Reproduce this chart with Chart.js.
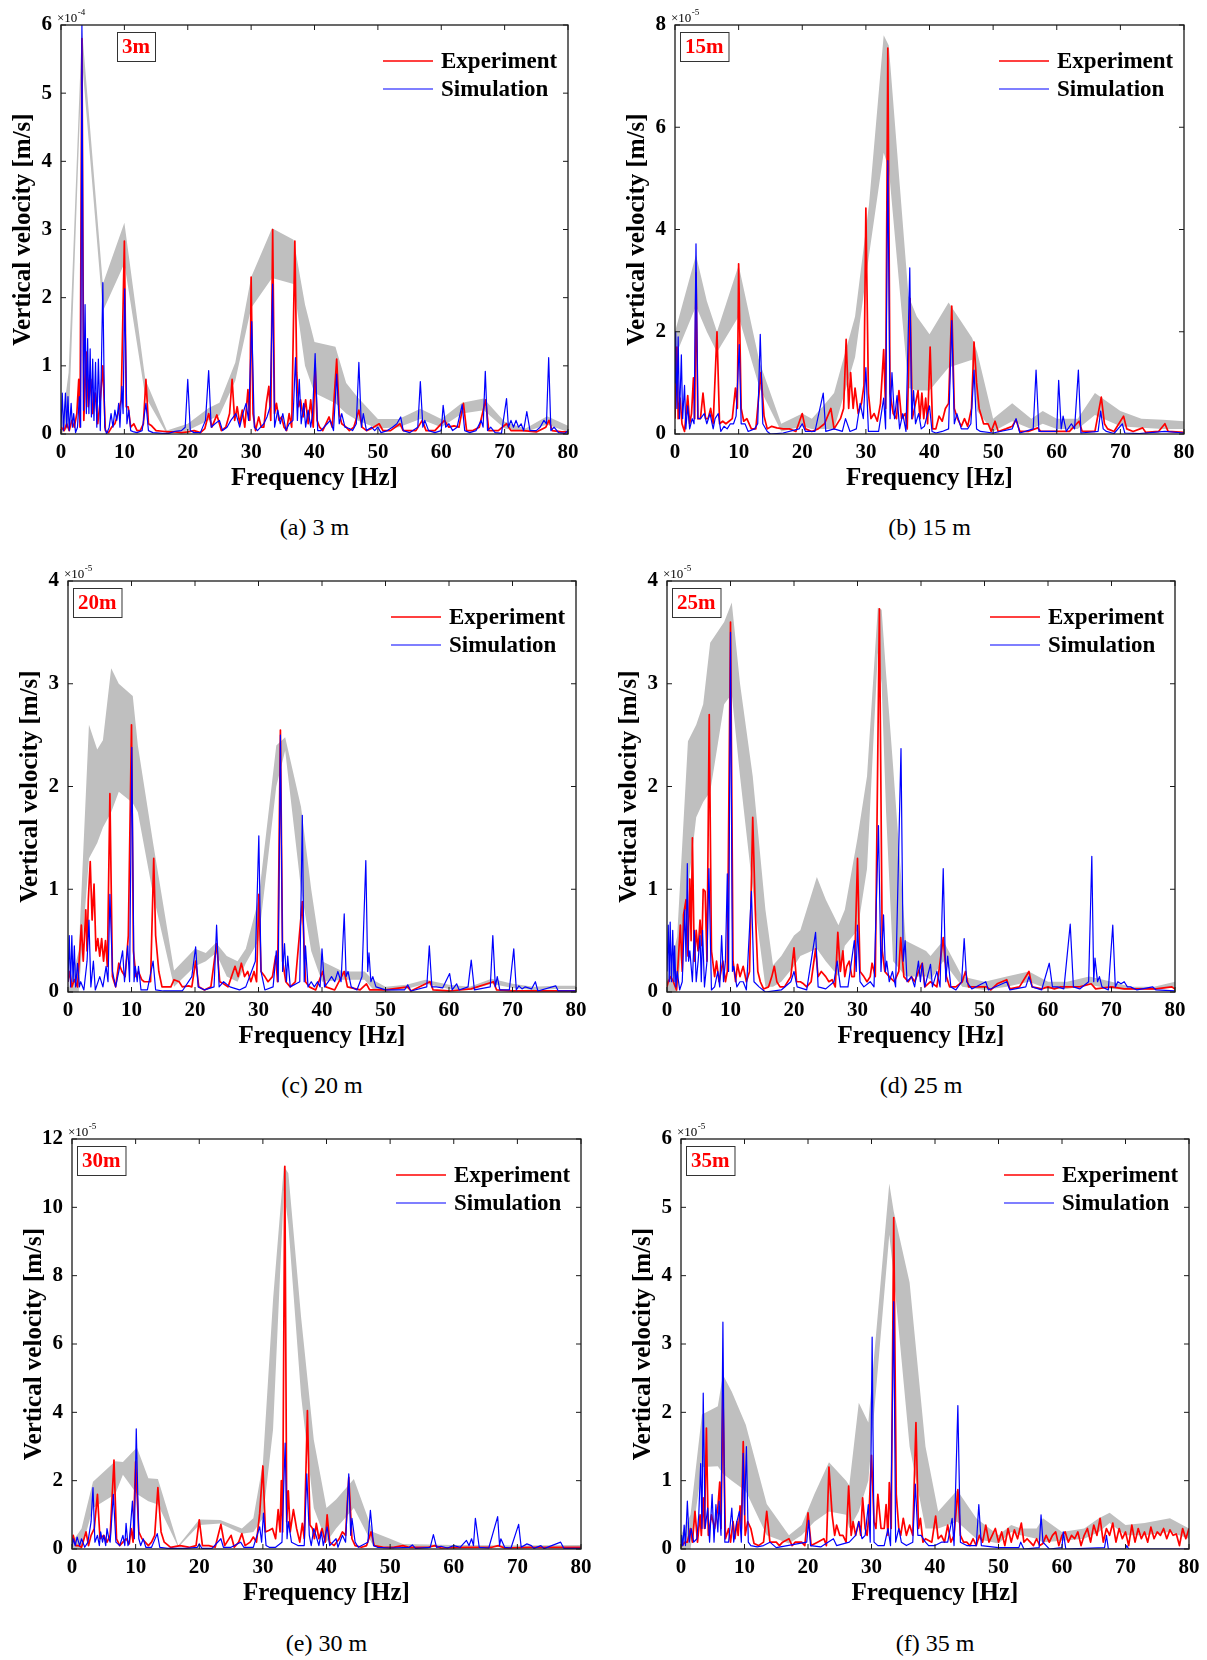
<!DOCTYPE html>
<html><head><meta charset="utf-8">
<script src="https://cdn.jsdelivr.net/npm/chart.js@4.4.1/dist/chart.umd.min.js"></script>
<style>
html,body{margin:0;padding:0;background:#fff;}
#page{position:relative;width:1207px;height:1660px;overflow:hidden;background:#fff;}
canvas{position:absolute;}
.cap{position:absolute;font-family:"Liberation Serif","Times New Roman",serif;font-size:24px;color:#000;transform:translate(-50%,-50%);white-space:nowrap;}
</style></head><body><div id="page"></div>
<script>
// ---------------- DATA ----------------
const panelTags = ['3m','15m','20m','25m','30m','35m'];
const captions = ['(a) 3 m','(b) 15 m','(c) 20 m','(d) 25 m','(e) 30 m','(f) 35 m'];
const exponents = ['-4','-5','-5','-5','-5','-5'];
const yMax = [6, 8, 4, 4, 12, 6];
const yStep = [1, 2, 1, 1, 2, 1];
const seriesNames = ['Experiment','Simulation'];

// (a) 3 m, units 1e-4 m/s
const A_bandF  = [0,1.2,3.3,6.6,10,13.3,16.7,20,23.3,25,27.5,30,33.3,36.7,38.5,40,43.3,45,46.7,50,53.3,56.7,60,63.3,66.7,70,73.3,76.7,80];
const A_bandHi = [0.05,0.9,5.95,2.2,3.1,0.8,0.05,0.15,0.38,0.46,1.05,2.3,3.02,2.85,1.9,1.35,1.28,0.75,0.55,0.22,0.22,0.37,0.22,0.46,0.52,0.18,0.08,0.26,0.12];
const A_bandLo = [0,0.1,5.5,1.8,2.5,0.55,0,0.05,0.2,0.27,0.78,1.85,2.29,2.2,1.0,0.6,0.45,0.3,0.2,0.08,0.1,0.22,0.1,0.3,0.35,0.08,0.03,0.14,0.03];
const A_exp = [[0,0.1],[0.5,0.05],[0.9,0.15],[1.3,0.05],[1.7,0.2],[2.1,0.1],[2.5,0.3],[2.8,0.8],[3.0,0.1],[3.3,5.8],[3.6,0.2],[4.0,1.2],[4.3,0.4],[4.7,0.8],[5.0,0.3],[5.4,0.6],[5.8,0.15],[6.2,0.5],[6.6,1.0],[7.0,0.05],[7.5,0.02],[8.0,0.1],[8.5,0.15],[9.0,0.3],[9.5,0.5],[10.0,2.83],[10.3,0.4],[10.6,0.4],[11.0,0.1],[11.5,0.15],[12.0,0.05],[12.5,0.05],[13.0,0.15],[13.4,0.8],[13.8,0.15],[14.3,0.12],[15,0.05],[16,0.04],[17,0.03],[18,0.03],[19,0.02],[20,0.03],[21,0.05],[22,0.02],[22.7,0.08],[23.3,0.3],[23.8,0.1],[24.6,0.28],[25.3,0.05],[26,0.1],[26.6,0.3],[27.0,0.8],[27.4,0.2],[27.8,0.4],[28.2,0.15],[28.6,0.35],[29.0,0.1],[29.5,0.65],[29.8,0.2],[30.0,2.3],[30.3,0.3],[30.7,0.05],[31.2,0.25],[31.6,0.1],[32.0,0.1],[32.4,0.45],[32.8,0.7],[33.1,0.2],[33.4,3.0],[33.7,0.3],[34.0,0.45],[34.4,0.2],[34.8,0.25],[35.2,0.1],[35.6,0.05],[36.0,0.3],[36.4,0.1],[36.9,2.83],[37.2,0.9],[37.5,0.4],[37.8,0.5],[38.2,0.25],[38.6,0.5],[39.0,0.15],[39.4,0.5],[39.8,0.1],[40.1,1.0],[40.4,0.2],[40.8,0.1],[41.3,0.05],[41.8,0.15],[42.3,0.25],[42.8,0.1],[43.5,1.1],[43.9,0.3],[44.3,0.15],[45,0.1],[45.5,0.05],[46.2,0.1],[47.0,0.35],[47.5,0.1],[48.2,0.05],[49,0.08],[50.2,0.15],[50.8,0.05],[52,0.05],[53.5,0.15],[54,0.05],[55,0.05],[56,0.05],[57,0.2],[57.6,0.05],[59,0.05],[60.5,0.2],[61.2,0.1],[62,0.12],[62.8,0.1],[63.5,0.45],[64,0.05],[65,0.05],[66,0.1],[67,0.5],[67.5,0.05],[69,0.05],[70.3,0.15],[71,0.05],[73,0.05],[75,0.03],[76.5,0.1],[77,0.2],[77.5,0.05],[79,0.03],[80,0.03]];
const A_sim = [[0,0.1],[0.2,0.6],[0.4,0.05],[0.7,0.6],[0.9,0.1],[1.1,0.55],[1.3,0.05],[1.6,0.45],[1.8,0.1],[2.0,0.3],[2.3,0.02],[2.6,0.1],[2.9,0.55],[3.1,0.1],[3.3,6.0],[3.55,0.35],[3.8,1.9],[4.0,0.3],[4.2,1.4],[4.4,0.3],[4.6,1.25],[4.8,0.25],[5.0,1.1],[5.2,0.2],[5.45,1.05],[5.65,0.1],[5.9,1.1],[6.2,0.05],[6.6,2.22],[6.9,0.1],[7.2,0.0],[7.6,0.1],[7.9,0.3],[8.2,0.1],[8.5,0.35],[8.8,0.2],[9.1,0.45],[9.3,0.1],[9.6,0.7],[9.8,0.3],[10.05,2.13],[10.4,0.15],[10.7,0.35],[11,0.05],[11.5,0.03],[12,0.02],[12.8,0.05],[13.4,0.45],[13.8,0.05],[14.5,0.02],[16,0.01],[17,0.01],[18,0.04],[19,0.05],[19.6,0.1],[20.0,0.8],[20.4,0.05],[21,0.02],[22,0.02],[22.8,0.2],[23.3,0.93],[23.7,0.1],[24.3,0.15],[25,0.2],[25.5,0.05],[26.2,0.1],[26.8,0.2],[27.6,0.3],[28.2,0.1],[28.7,0.3],[29.2,0.45],[29.6,0.2],[30.1,1.65],[30.5,0.1],[31,0.05],[31.5,0.1],[32,0.15],[32.5,0.25],[33.0,0.4],[33.4,2.2],[33.7,0.1],[34.2,0.35],[34.6,0.15],[35.0,0.3],[35.5,0.05],[36.0,0.15],[36.6,0.2],[37.0,1.12],[37.3,0.2],[37.6,0.8],[37.9,0.15],[38.3,0.45],[38.6,0.1],[39,0.35],[39.4,0.1],[39.7,0.3],[40.1,1.18],[40.5,0.05],[41,0.05],[41.5,0.1],[42,0.15],[42.5,0.2],[43,0.05],[43.5,0.88],[43.9,0.15],[44.3,0.3],[44.8,0.1],[45.5,0.08],[46,0.05],[46.6,0.15],[47.0,1.05],[47.4,0.1],[47.7,0.3],[48.2,0.05],[49,0.1],[49.5,0.05],[50,0.1],[50.5,0.02],[51.5,0.05],[52.3,0.1],[53,0.15],[53.6,0.25],[54,0.05],[55,0.02],[56.3,0.1],[56.7,0.77],[57.1,0.1],[57.4,0.2],[58,0.05],[59,0.02],[60,0.05],[60.3,0.42],[60.7,0.1],[61.2,0.15],[61.8,0.05],[62.5,0.1],[63.3,0.43],[63.7,0.05],[64.5,0.02],[65.5,0.05],[66.3,0.2],[66.6,0.1],[66.95,0.92],[67.3,0.05],[67.8,0.1],[68.5,0.02],[69.5,0.01],[70.3,0.52],[70.6,0.1],[71,0.2],[71.4,0.1],[71.8,0.2],[72.2,0.1],[72.6,0.15],[73,0.05],[73.5,0.33],[74,0.05],[75,0.05],[75.6,0.1],[76.2,0.2],[76.6,0.15],[76.95,1.12],[77.3,0.05],[77.8,0.1],[78.5,0.02],[79.5,0.01],[80,0.05]];

// (b) 15 m, units 1e-5 m/s
const B_bandF  = [0,3.3,5.0,6.6,10,13.3,16.7,20,21.5,23.3,25,28.3,30.5,32.8,33.6,36.7,38,40,43,46.7,47.5,50,53,56,57.8,60,63.3,66,70,73.3,76.7,80];
const B_bandHi = [2.0,3.5,2.6,2.0,3.3,1.4,0.2,0.4,0.3,0.55,0.8,2.3,4.5,7.8,7.6,2.7,2.3,1.95,2.57,1.88,1.6,0.3,0.6,0.3,0.45,0.3,0.3,0.8,0.45,0.3,0.28,0.25];
const B_bandLo = [1.5,2.5,2.0,1.6,2.3,0.9,0.05,0.15,0.1,0.1,0.1,1.5,3.5,5.5,5.2,0.9,0.85,0.85,1.3,1.45,0.45,0.05,0.25,0.1,0.2,0.1,0.1,0.37,0.15,0.12,0.1,0.1];
const B_exp = [[0,0.3],[0.3,1.7],[0.5,0.3],[0.8,0.7],[1.1,0.2],[1.5,0.05],[2.0,0.75],[2.3,0.2],[2.6,0.4],[2.9,1.1],[3.1,0.3],[3.3,3.15],[3.6,0.3],[4.0,0.3],[4.4,0.8],[4.8,0.3],[5.2,0.3],[5.6,0.5],[6.0,0.2],[6.6,2.0],[7.0,0.2],[7.5,0.25],[8.0,0.2],[8.5,0.25],[9.0,0.3],[9.5,0.9],[9.8,0.5],[10.0,3.33],[10.4,0.5],[10.8,0.25],[11.3,0.3],[12,0.1],[12.7,0.1],[13.5,1.2],[14.0,0.35],[14.5,0.1],[15.2,0.15],[16,0.12],[17,0.1],[18,0.1],[19,0.05],[20,0.4],[20.5,0.1],[21.5,0.05],[22.5,0.1],[23.5,0.2],[24.5,0.5],[25,0.1],[26,0.3],[26.5,0.5],[26.9,1.85],[27.3,0.5],[27.6,1.2],[28.0,0.5],[28.3,0.9],[28.8,0.4],[29.3,0.6],[29.7,0.95],[30.0,4.42],[30.4,0.8],[30.8,0.3],[31.3,0.4],[31.8,0.25],[32.3,0.6],[32.8,1.65],[33.1,0.5],[33.45,7.55],[33.8,0.8],[34.3,0.4],[34.8,0.3],[35.2,0.85],[35.6,0.3],[36.2,0.4],[36.5,0.1],[36.95,2.65],[37.3,0.3],[37.8,0.6],[38.2,0.85],[38.5,0.3],[38.8,0.8],[39.1,0.3],[39.4,0.7],[39.7,0.2],[40.1,1.7],[40.5,0.1],[41,0.1],[41.5,0.35],[42,0.25],[42.5,0.5],[43,0.6],[43.5,2.5],[43.9,0.5],[44.4,0.3],[45,0.15],[45.5,0.3],[46,0.15],[46.6,0.5],[47.0,1.8],[47.4,1.0],[47.8,0.5],[48.5,0.2],[49.2,0.2],[49.7,0.05],[50.3,0.25],[50.8,0.05],[52,0.1],[53,0.15],[53.6,0.28],[54.2,0.05],[55.5,0.05],[57,0.12],[57.5,0.05],[59,0.05],[60.5,0.05],[62,0.05],[63.5,0.25],[64,0.05],[66,0.05],[67,0.72],[67.5,0.2],[68,0.1],[69,0.05],[70.5,0.35],[71,0.1],[72,0.05],[73.5,0.12],[74,0.03],[76,0.05],[77,0.2],[77.5,0.05],[80,0.03]];
const B_sim = [[0,1.0],[0.1,2.0],[0.3,0.5],[0.5,1.9],[0.7,0.3],[1.0,1.55],[1.2,0.3],[1.5,0.95],[1.7,0.1],[2.0,0.55],[2.3,0.1],[2.7,0.3],[3.0,0.2],[3.3,3.72],[3.6,0.3],[4.0,0.3],[4.6,0.4],[5.0,0.2],[5.5,0.4],[6.0,0.1],[6.3,0.3],[6.8,0.4],[7.2,0.05],[7.7,0.15],[8.2,0.1],[8.7,0.2],[9.2,0.2],[9.6,0.35],[10.1,1.75],[10.4,0.2],[11,0.2],[11.5,0.05],[12.5,0.1],[13.0,0.2],[13.4,1.95],[13.8,0.2],[14.5,0.05],[15,0.0],[17,0.02],[19.5,0.1],[20,0.2],[20.5,0.05],[22,0.05],[23.3,0.8],[23.7,0.05],[25,0.1],[26.3,0.05],[26.8,0.3],[27.5,0.05],[28.5,0.1],[29.1,0.6],[29.6,0.3],[30.0,1.3],[30.4,0.05],[31,0.05],[32,0.05],[32.8,0.7],[33.1,0.1],[33.45,5.35],[33.8,0.3],[34.1,1.2],[34.5,0.3],[34.9,0.75],[35.3,0.1],[35.8,0.4],[36.3,0.05],[36.9,3.25],[37.2,0.3],[37.5,0.85],[37.8,0.2],[38.3,0.4],[38.7,0.1],[39.2,0.15],[40.0,0.55],[40.4,0.05],[41,0.02],[42,0.05],[43,0.1],[43.5,2.22],[43.9,0.2],[44.3,0.4],[45,0.1],[46,0.1],[46.5,0.2],[47.0,1.25],[47.4,0.1],[48,0.05],[50,0.02],[53,0.1],[53.6,0.3],[54.2,0.02],[56.3,0.1],[56.75,1.25],[57.2,0.05],[58,0.05],[60,0.05],[60.3,1.05],[60.7,0.1],[61,0.35],[61.5,0.05],[62.3,0.2],[62.8,0.1],[63.4,1.25],[63.8,0.02],[66.5,0.05],[66.9,0.45],[67.3,0.1],[67.8,0.05],[69,0.01],[70.3,0.2],[70.7,0.02],[73,0.01],[77,0.05],[80,0.02]];

// (c) 20 m, units 1e-5 m/s
const C_bandF  = [0,1.7,3.3,4.6,5.5,6.8,8.0,10.2,11.0,13.4,16.7,20,21.7,23.3,25,26.7,28,30,32.8,34.2,36.7,38.3,40,43.3,46.7,48,50,53.3,56.3,60,63.3,66.7,70,73.3,76.7,80];
const C_bandHi = [0,0.4,2.6,2.36,2.45,3.15,3.0,2.88,2.4,1.45,0.21,0.42,0.38,0.48,0.35,0.3,0.42,0.9,2.4,2.48,1.8,1.0,0.3,0.2,0.2,0.12,0.05,0.07,0.12,0.07,0.05,0.13,0.08,0.05,0.06,0.06];
const C_bandLo = [0,0,1.3,1.45,1.6,1.75,1.95,1.84,1.75,0.95,0.05,0.25,0.3,0.38,0.15,0.1,0.28,0.5,2.0,2.35,1.0,0.4,0.1,0.12,0.12,0.03,0,0.03,0.08,0.03,0.02,0.08,0.04,0.02,0.03,0.03];
const C_exp = [[0,0.1],[0.3,0.2],[0.6,0.05],[1.0,0.12],[1.5,0.05],[2.1,0.65],[2.4,0.3],[2.8,0.8],[3.0,0.4],[3.2,0.9],[3.5,1.27],[3.8,0.7],[4.1,1.05],[4.4,0.4],[4.7,0.52],[5.0,0.35],[5.3,0.52],[5.6,0.3],[5.9,0.5],[6.2,0.25],[6.6,1.93],[7.0,0.15],[7.5,0.05],[8.0,0.28],[8.5,0.2],[9.0,0.15],[9.5,0.55],[10.0,2.6],[10.3,0.4],[10.7,0.15],[11.1,0.2],[11.6,0.12],[12,0.1],[12.5,0.1],[13.0,0.1],[13.5,1.3],[13.8,0.55],[14.3,0.2],[14.8,0.05],[15.5,0.05],[16.2,0.05],[16.7,0.12],[17.5,0.1],[18,0.05],[19,0.06],[19.5,0.05],[20.1,0.3],[20.6,0.05],[21.5,0.02],[22.5,0.05],[23.4,0.47],[23.9,0.1],[24.5,0.08],[25.2,0.05],[26.3,0.25],[26.8,0.15],[27.3,0.28],[27.8,0.15],[28.3,0.2],[28.8,0.1],[29.3,0.2],[29.7,0.1],[30.05,0.95],[30.4,0.2],[31,0.15],[31.5,0.1],[32.2,0.15],[32.7,0.35],[33.0,0.1],[33.45,2.55],[33.8,0.3],[34.3,0.1],[35,0.05],[35.8,0.1],[36.9,0.88],[37.4,0.1],[38,0.05],[39,0.02],[40.1,0.2],[40.6,0.05],[42,0.02],[43.5,0.2],[44,0.05],[46,0.02],[47,0.08],[47.5,0.02],[50,0.02],[53.5,0.05],[54,0.01],[57,0.1],[57.5,0.02],[60,0.01],[63.5,0.03],[67,0.1],[67.5,0.02],[70,0.01],[80,0.01]];
const C_sim = [[0,0.1],[0.2,0.55],[0.4,0.05],[0.6,0.55],[0.8,0.1],[1.0,0.45],[1.2,0.05],[1.5,0.28],[1.8,0.05],[2.0,0.1],[2.5,0.02],[3.0,0.3],[3.3,0.7],[3.6,0.05],[4.0,0.3],[4.3,0.02],[5.0,0.15],[5.5,0.05],[6.0,0.25],[6.3,0.1],[6.6,0.95],[7.0,0.2],[7.5,0.05],[8.0,0.2],[8.3,0.3],[8.6,0.4],[8.9,0.1],[9.4,0.45],[9.7,0.1],[10.05,2.38],[10.4,0.1],[10.6,0.25],[10.9,0.1],[11.1,0.25],[11.5,0.02],[12.5,0.02],[13.4,0.3],[13.8,0.02],[15,0.01],[18,0.01],[19.5,0.15],[20.1,0.44],[20.5,0.05],[21.5,0.02],[23.0,0.05],[23.4,0.65],[23.8,0.05],[24.5,0.1],[25.5,0.05],[27,0.02],[28,0.05],[29.5,0.3],[30.05,1.52],[30.4,0.2],[31,0.02],[32.3,0.05],[32.8,0.4],[33.1,0.1],[33.45,2.5],[33.8,0.2],[34.1,0.47],[34.4,0.1],[34.6,0.35],[35,0.05],[36.5,0.1],[36.9,1.72],[37.2,0.1],[37.4,0.45],[37.8,0.05],[38.3,0.1],[38.8,0.05],[39.3,0.1],[39.7,0.05],[40.0,0.42],[40.4,0.05],[41.0,0.1],[41.5,0.15],[42,0.1],[42.5,0.2],[43.0,0.1],[43.5,0.76],[43.8,0.15],[44.1,0.2],[44.6,0.05],[45.5,0.02],[46.3,0.15],[46.9,1.28],[47.2,0.2],[47.4,0.38],[47.7,0.1],[48,0.15],[48.5,0.05],[50,0.02],[53,0.02],[53.5,0.07],[54,0.01],[56.5,0.05],[56.9,0.45],[57.3,0.05],[58,0.05],[59,0.04],[60.1,0.18],[60.5,0.02],[61.2,0.08],[61.6,0.02],[63,0.05],[63.5,0.31],[64,0.02],[66.5,0.05],[66.9,0.55],[67.3,0.05],[67.6,0.15],[68,0.02],[69.5,0.02],[70.2,0.42],[70.6,0.02],[71,0.06],[71.5,0.03],[72,0.05],[73,0.03],[73.6,0.1],[74,0.01],[76.8,0.06],[77.2,0.01],[80,0.01]];

// (d) 25 m, units 1e-5 m/s
const D_bandF  = [0,1.6,3.3,4.6,5.7,6.8,9.0,10.2,11.5,13.5,15.5,16.7,18,20,21,23.6,25,27,28,30,31.5,33.2,33.8,34.5,35.6,37.6,40.8,41.5,43.5,46.5,50,53.5,57,60,63,66.5,70,73,76.7,80];
const D_bandHi = [0.1,0.54,2.44,2.6,2.8,3.4,3.6,3.79,3.0,2.1,0.8,0.26,0.35,0.55,0.6,1.12,0.9,0.65,0.8,1.5,2.1,3.74,3.72,3.1,2.2,0.5,0.4,0.35,0.5,0.15,0.1,0.15,0.2,0.1,0.1,0.15,0.1,0.05,0.05,0.1];
const D_bandLo = [0,0,1.0,1.7,1.85,1.95,2.8,2.9,2.1,1.0,0.05,0.05,0.1,0.25,0.35,0.42,0.3,0.15,0.45,0.6,1.2,3.3,3.0,1.75,0.3,0.15,0.15,0.12,0.3,0.05,0.02,0.05,0.1,0.03,0.03,0.07,0.03,0.02,0.02,0.05];
const D_exp = [[0,0.05],[0.2,0.1],[0.6,0.15],[1.0,0.1],[1.5,0.02],[2.1,0.65],[2.4,0.2],[2.6,0.75],[3.0,0.9],[3.3,0.35],[3.6,1.1],[3.8,0.5],[4.0,1.5],[4.3,0.3],[4.6,0.6],[4.9,0.4],[5.2,0.7],[5.5,0.45],[5.7,1.0],[6.0,0.98],[6.3,0.3],[6.65,2.7],[7.0,0.4],[7.5,0.15],[7.8,0.3],[8.2,0.1],[8.8,0.3],[9.2,0.1],[9.5,0.2],[10.0,3.6],[10.4,0.3],[10.8,0.1],[11.1,0.27],[11.5,0.15],[12.0,0.25],[12.5,0.1],[13.0,0.2],[13.5,1.7],[13.9,0.8],[14.3,0.2],[14.7,0.1],[15.2,0.03],[16.0,0.05],[16.5,0.15],[16.9,0.25],[17.3,0.1],[17.8,0.05],[18.5,0.05],[19.5,0.15],[20.0,0.43],[20.4,0.1],[21,0.1],[21.5,0.08],[22,0.05],[22.7,0.1],[23.4,0.42],[23.8,0.15],[24.3,0.2],[25,0.15],[25.5,0.1],[26,0.12],[26.5,0.05],[26.9,0.58],[27.3,0.2],[27.7,0.4],[28,0.15],[28.3,0.25],[28.7,0.3],[29.1,0.15],[29.5,0.15],[30.0,1.3],[30.4,0.2],[31,0.15],[31.5,0.1],[32,0.15],[32.3,0.28],[32.8,0.15],[33.45,3.73],[33.9,0.4],[34.3,0.2],[35,0.15],[35.8,0.1],[36.5,0.2],[36.8,0.53],[37.3,0.15],[38,0.1],[38.5,0.15],[39,0.1],[39.6,0.2],[40.2,0.28],[40.6,0.05],[41.5,0.1],[42.5,0.05],[43.5,0.53],[44,0.15],[44.5,0.05],[45.5,0.05],[46.5,0.1],[47,0.2],[47.5,0.05],[48.5,0.05],[50.3,0.05],[51,0.02],[52,0.08],[53.5,0.12],[54,0.03],[55.5,0.05],[57,0.2],[57.5,0.05],[59,0.03],[60,0.05],[61,0.03],[62,0.05],[63.5,0.05],[65,0.05],[66.8,0.08],[67.5,0.03],[70,0.05],[72,0.03],[75,0.03],[77,0.03],[79.5,0.05],[80,0.03]];
const D_sim = [[0,0.2],[0.2,0.65],[0.35,0.1],[0.5,0.68],[0.7,0.1],[0.9,0.6],[1.1,0.1],[1.2,0.45],[1.4,0.05],[1.6,0.2],[2.0,0.02],[2.4,0.1],[2.8,0.8],[3.0,0.3],[3.2,1.25],[3.4,0.3],[3.6,0.4],[4.0,0.1],[4.3,0.6],[4.6,0.1],[4.9,0.3],[5.2,0.55],[5.4,0.1],[5.6,0.6],[5.9,0.05],[6.3,0.3],[6.6,1.2],[7.0,0.02],[7.5,0.05],[8.0,0.2],[8.3,0.05],[8.6,0.55],[8.9,0.1],[9.2,0.3],[9.5,1.15],[9.7,0.2],[10.0,3.5],[10.3,0.2],[10.5,0.25],[11.0,0.05],[11.5,0.1],[12.0,0.1],[12.5,0.02],[13.3,0.98],[13.7,0.1],[14.5,0.05],[15.5,0.0],[18,0.02],[19.5,0.1],[20.0,0.2],[20.5,0.05],[22,0.02],[23.4,0.58],[23.8,0.05],[25,0.03],[26.3,0.1],[26.8,0.3],[27.3,0.05],[28.5,0.05],[29.5,0.5],[29.8,0.2],[30.0,0.65],[30.4,0.1],[31,0.05],[32.0,0.1],[32.6,0.05],[33.3,1.62],[33.7,0.2],[34.1,0.75],[34.4,0.2],[34.6,0.3],[35,0.1],[35.5,0.2],[36,0.05],[36.85,2.37],[37.2,0.3],[37.5,0.5],[37.8,0.1],[38.5,0.15],[39,0.05],[39.6,0.3],[39.9,0.1],[40.2,0.28],[40.6,0.05],[41.5,0.27],[41.8,0.05],[42.5,0.2],[43,0.05],[43.5,1.2],[43.9,0.1],[44.2,0.35],[44.7,0.05],[45.5,0.02],[46.4,0.1],[46.8,0.52],[47.2,0.1],[48,0.03],[50.2,0.1],[50.6,0.02],[53.5,0.1],[54,0.02],[56.5,0.05],[57.0,0.15],[57.5,0.05],[59,0.02],[60.2,0.28],[60.7,0.05],[61.5,0.05],[62.5,0.03],[63.5,0.66],[64,0.05],[65,0.03],[66.4,0.1],[66.9,1.32],[67.2,0.1],[67.4,0.33],[67.8,0.1],[68.1,0.15],[68.5,0.05],[69.5,0.02],[70.2,0.65],[70.6,0.05],[71.0,0.1],[71.5,0.08],[72,0.1],[72.5,0.05],[73,0.05],[74,0.02],[76.5,0.05],[77,0.02],[80,0.01]];

// (e) 30 m, units 1e-5 m/s
const E_bandF  = [0,1.5,3.3,6.8,8.0,10.2,12.0,13.5,16.7,20,23.3,26.7,28.5,30,31.6,33.3,34,36,38,40,41.5,44.3,47.3,50,52,60,70,80];
const E_bandHi = [0.2,0.6,1.97,2.57,2.55,2.97,2.07,2.05,0.1,0.86,0.85,0.6,0.9,2.5,7.3,11.2,11.0,6.8,3.2,1.2,1.45,2.05,0.5,0.3,0.15,0.12,0.1,0.12];
const E_bandLo = [0,0,1.2,1.6,2.17,1.61,1.4,1.3,0.05,0.7,0.75,0.45,0.5,0.9,3.5,10.5,9.5,4.5,1.2,0.2,0.6,1.2,0.1,0.05,0.05,0.05,0.05,0.05];
const E_exp = [[0,0.1],[0.2,0.4],[0.6,0.1],[1.0,0.1],[1.5,0.05],[2.2,0.5],[2.6,0.1],[3.0,0.4],[3.5,0.6],[4.0,1.6],[4.4,0.3],[5.0,0.4],[5.5,0.2],[6.0,0.4],[6.6,2.6],[7.0,0.3],[7.5,0.1],[8.0,0.2],[8.5,0.3],[9.0,0.15],[9.3,0.6],[9.6,0.2],[10.0,2.55],[10.5,0.5],[11,0.3],[11.5,0.2],[12,0.1],[12.5,0.2],[13.0,0.4],[13.5,1.8],[14,0.5],[14.5,0.2],[15.5,0.05],[17,0.1],[18.5,0.05],[19.5,0.1],[20.0,0.85],[20.5,0.1],[21.5,0.1],[22.5,0.05],[23.4,0.72],[24,0.1],[25,0.4],[25.5,0.05],[26.2,0.2],[26.7,0.45],[27.2,0.1],[28,0.2],[28.5,0.35],[29,0.2],[29.5,1.05],[30.0,2.43],[30.4,0.5],[31,0.55],[31.5,0.6],[32,0.3],[32.4,1.15],[32.7,0.5],[32.9,2.0],[33.1,0.5],[33.45,11.2],[33.75,0.8],[34.0,1.7],[34.3,0.5],[34.8,1.15],[35.3,0.6],[35.8,0.2],[36.2,0.75],[36.5,0.3],[37.0,4.05],[37.4,0.7],[37.8,0.6],[38.1,0.3],[38.4,0.75],[38.8,0.3],[39.3,0.6],[39.8,0.2],[40.1,1.0],[40.5,0.2],[41.2,0.1],[42,0.3],[42.5,0.5],[43,0.4],[43.5,2.1],[44,0.3],[44.5,0.1],[45.5,0.05],[46.3,0.1],[47,0.5],[47.5,0.1],[49,0.05],[50.5,0.05],[52,0.1],[53,0.05],[56,0.05],[57,0.1],[58,0.03],[62,0.05],[66,0.05],[67,0.1],[68,0.03],[72,0.05],[76,0.05],[80,0.05]];
const E_sim = [[0,0.05],[0.2,0.3],[0.5,0.1],[0.8,0.35],[1.2,0.1],[1.5,0.3],[2.0,0.05],[2.5,0.2],[3.0,0.8],[3.3,1.8],[3.6,0.2],[4.0,0.4],[4.3,0.1],[4.5,0.5],[4.8,0.2],[5.0,0.4],[5.3,0.1],[5.5,0.6],[5.8,0.3],[6.0,0.2],[6.5,1.6],[6.9,0.2],[7.5,0.1],[8.0,0.4],[8.3,0.1],[8.5,0.75],[8.8,0.1],[9.0,0.2],[9.5,1.4],[9.8,0.3],[10.1,3.52],[10.5,0.3],[10.8,0.1],[11.2,0.3],[11.6,0.05],[12.5,0.05],[13.4,0.45],[13.8,0.05],[15,0.02],[18,0.02],[19.7,0.05],[20.0,0.15],[20.4,0.02],[22,0.02],[23.4,0.3],[23.8,0.05],[25,0.05],[26.5,0.2],[27,0.05],[28.5,0.05],[29.5,0.65],[29.8,0.2],[30.1,1.05],[30.5,0.1],[31,0.05],[32,0.05],[33.0,0.2],[33.5,3.1],[33.8,0.3],[34,0.8],[34.5,0.2],[35.5,0.1],[36.5,0.1],[36.9,2.2],[37.3,0.4],[37.6,0.1],[38.0,0.6],[38.5,0.3],[38.8,0.1],[39.2,0.5],[39.5,0.1],[40.1,0.65],[40.5,0.1],[41.5,0.3],[41.8,0.05],[42.5,0.4],[43.0,0.2],[43.5,2.2],[43.8,0.4],[44.0,0.9],[44.5,0.2],[45,0.05],[46.5,0.2],[46.9,1.13],[47.4,0.1],[48,0.05],[50,0.03],[53,0.05],[53.5,0.12],[54,0.02],[56.3,0.05],[56.8,0.42],[57.3,0.05],[58,0.08],[59,0.03],[60,0.1],[61,0.05],[62,0.25],[62.4,0.1],[62.8,0.3],[63.1,0.1],[63.4,0.9],[64,0.05],[65.5,0.03],[66.9,0.95],[67.2,0.1],[67.4,0.3],[68,0.05],[69,0.03],[70.2,0.72],[70.6,0.05],[71.5,0.15],[72.2,0.1],[72.6,0.02],[73.7,0.1],[74.2,0.01],[76.8,0.2],[77.3,0.02],[80,0.02]];

// (f) 35 m, units 1e-5 m/s
const F_bandF  = [0,1.5,3.3,5.8,6.6,8.0,10.2,13.5,17,19,21,23.3,26.0,26.5,28,29.5,32.8,33.5,36,38.5,40.5,43.5,46.5,50,52,53.5,56,57,60,63.5,65.8,67.5,70,73,77,80];
const F_bandHi = [0.2,0.5,1.97,2.09,2.55,2.3,1.82,0.66,0.2,0.35,0.8,1.27,1.0,0.93,2.14,1.85,5.35,4.94,3.9,1.5,0.55,0.86,0.45,0.2,0.35,0.3,0.3,0.45,0.25,0.3,0.45,0.53,0.35,0.38,0.45,0.3];
const F_bandLo = [0,0,1.2,1.21,1.1,1.0,0.85,0.2,0.08,0.2,0.4,0.55,0.5,0.3,0.55,1.0,4.6,4.0,1.5,0.3,0.3,0.4,0.15,0.08,0.25,0.2,0.15,0.1,0.12,0.15,0.25,0.38,0.2,0.2,0.25,0.15];
const F_exp = [[0,0.05],[0.2,0.05],[0.6,0.1],[1.0,0.1],[1.5,0.3],[1.8,0.1],[2.2,0.55],[2.6,0.1],[3.0,0.5],[3.2,0.2],[3.5,0.75],[3.7,0.3],[4.0,1.77],[4.3,0.2],[4.8,0.5],[5.3,0.3],[5.8,0.6],[6.1,0.98],[6.3,0.3],[6.6,2.28],[7.0,0.15],[7.5,0.3],[7.8,0.1],[8.2,0.4],[8.5,0.15],[8.8,0.4],[9.0,0.2],[9.3,0.63],[9.5,0.3],[9.8,1.57],[10.1,0.2],[10.5,0.4],[11,0.3],[11.5,0.08],[12.2,0.05],[13,0.1],[13.5,0.55],[14,0.1],[15,0.1],[15.5,0.05],[16,0.1],[17,0.15],[17.5,0.05],[18,0.1],[19,0.1],[19.5,0.05],[20,0.53],[20.5,0.05],[21.5,0.1],[22.5,0.15],[22.9,0.05],[23.3,1.2],[23.8,0.5],[24.2,0.2],[24.5,0.35],[25,0.2],[25.5,0.2],[26,0.1],[26.4,0.92],[26.8,0.2],[27.1,0.4],[27.5,0.2],[28.0,0.4],[28.3,0.2],[28.6,0.75],[29.0,0.3],[29.3,0.2],[29.6,0.5],[30.0,1.37],[30.4,0.4],[30.7,0.3],[31.0,0.8],[31.5,0.3],[32.0,0.3],[32.3,0.65],[32.6,0.2],[32.8,0.97],[33.1,0.3],[33.5,4.85],[33.9,0.8],[34.3,0.3],[34.6,0.2],[35,0.45],[35.5,0.2],[36,0.35],[36.5,0.2],[37.0,1.85],[37.4,0.3],[37.7,0.45],[38.1,0.1],[38.5,0.15],[39.5,0.1],[40.1,0.48],[40.5,0.15],[41,0.2],[41.5,0.1],[42,0.35],[42.5,0.1],[43.0,0.2],[43.6,0.87],[44,0.2],[44.5,0.1],[45,0.1],[45.5,0.05],[46,0.15],[46.5,0.05],[47,0.2],[47.5,0.1],[48,0.35],[48.5,0.1],[49,0.2],[49.5,0.3],[50,0.1],[50.5,0.25],[51,0.05],[51.5,0.3],[52,0.1],[52.5,0.28],[53,0.15],[53.6,0.38],[54,0.1],[54.5,0.15],[55,0.1],[55.5,0.05],[56,0.15],[56.5,0.05],[57,0.08],[57.5,0.2],[58,0.1],[58.5,0.2],[59,0.25],[59.5,0.05],[60,0.2],[60.5,0.25],[61,0.1],[61.5,0.2],[62,0.15],[62.5,0.25],[63,0.05],[63.5,0.2],[64,0.3],[64.5,0.1],[65,0.35],[65.5,0.2],[66,0.45],[66.5,0.1],[67,0.3],[67.5,0.2],[68,0.38],[68.5,0.1],[69,0.3],[69.5,0.15],[70,0.25],[70.5,0.05],[71,0.35],[71.5,0.1],[72,0.3],[72.5,0.15],[73,0.25],[73.5,0.1],[74,0.32],[74.5,0.15],[75,0.25],[75.5,0.2],[76,0.3],[76.5,0.15],[77,0.28],[77.5,0.2],[78,0.22],[78.5,0.05],[79,0.3],[79.5,0.15],[80,0.3]];
const F_sim = [[0,0.05],[0.1,0.2],[0.3,0.05],[0.5,0.35],[0.7,0.05],[1.0,0.7],[1.3,0.1],[1.6,0.3],[2.0,0.1],[2.5,0.15],[2.8,0.5],[3.1,1.25],[3.3,0.3],[3.5,2.28],[3.8,0.3],[4.2,0.6],[4.5,0.1],[4.9,0.8],[5.2,0.1],[5.5,0.65],[5.8,0.25],[6.0,0.7],[6.3,0.2],[6.6,3.32],[6.9,0.1],[7.5,0.1],[8.0,0.6],[8.3,0.1],[8.8,0.4],[9.2,0.55],[9.5,0.1],[9.8,1.4],[10.0,0.5],[10.3,1.5],[10.6,0.1],[11,0.05],[12,0.03],[13,0.05],[14,0.1],[15,0.02],[19.8,0.1],[20.1,0.42],[20.4,0.05],[22,0.03],[24,0.15],[24.5,0.05],[26.5,0.1],[27.5,0.2],[28,0.4],[28.5,0.15],[29,0.2],[29.5,0.65],[29.8,0.1],[30.1,3.1],[30.4,0.1],[31,0.05],[32,0.05],[32.6,0.3],[33.0,0.05],[33.5,3.62],[33.8,0.1],[34.3,0.3],[34.7,0.1],[35.5,0.05],[36.5,0.1],[36.9,0.95],[37.3,0.2],[37.8,0.2],[38.5,0.1],[39,0.05],[40,0.05],[41,0.1],[42,0.1],[42.7,0.45],[43.0,0.05],[43.6,2.1],[44,0.1],[45,0.05],[46.5,0.05],[46.9,0.65],[47.3,0.05],[50,0.02],[53.2,0.02],[53.5,0.1],[54,0.0],[56.4,0.02],[56.7,0.5],[57,0.1],[58,0.0],[60,0.02],[60.2,0.25],[60.6,0.0],[66.7,0.02],[67,0.2],[67.3,0.0],[70,0.0],[70.2,0.05],[70.5,0.0],[80,0.0]];

// ---------------- LAYOUT (plot-area boxes in page pixels) ----------------
const boxes = [
  {L:61, T:25, R:568, B:434, tagDx:56},
  {L:675, T:25, R:1184, B:434, tagDx:5},
  {L:68, T:581, R:576, B:992, tagDx:5},
  {L:667, T:581, R:1175, B:992, tagDx:5},
  {L:72, T:1139, R:581, B:1549, tagDx:5},
  {L:681, T:1139, R:1189, B:1549, tagDx:5}
];
const captionY = [527, 527, 1085, 1085, 1643, 1643];

const panelData = [
  {bandF:A_bandF, hi:A_bandHi, lo:A_bandLo, exp:A_exp, sim:A_sim},
  {bandF:B_bandF, hi:B_bandHi, lo:B_bandLo, exp:B_exp, sim:B_sim},
  {bandF:C_bandF, hi:C_bandHi, lo:C_bandLo, exp:C_exp, sim:C_sim},
  {bandF:D_bandF, hi:D_bandHi, lo:D_bandLo, exp:D_exp, sim:D_sim},
  {bandF:E_bandF, hi:E_bandHi, lo:E_bandLo, exp:E_exp, sim:E_sim},
  {bandF:F_bandF, hi:F_bandHi, lo:F_bandLo, exp:F_exp, sim:F_sim}
];

// ---------------- DRAWING ----------------
const FONT = '"Liberation Serif", "Times New Roman", serif';
const RED = '#ff0000', BLUE = '#0000ff', GREY = '#bfbfbf';
const PAD_L = 52, PAD_T = 25, PAD_R = 22, XAX_H = 60;

const decor = {
  id: 'decor',
  afterDraw(chart, args, o) {
    const ctx = chart.ctx;
    const {left:L, top:T, right:R, bottom:B} = chart.chartArea;
    const xs = chart.scales.x, ys = chart.scales.y;
    ctx.save();
    ctx.strokeStyle = '#1a1a1a'; ctx.lineWidth = 1.3;
    ctx.strokeRect(L, T, R - L, B - T);
    ctx.lineWidth = 1;
    ctx.beginPath();
    xs.ticks.forEach(t => { const p = xs.getPixelForValue(t.value); ctx.moveTo(p, B); ctx.lineTo(p, B - 5); ctx.moveTo(p, T); ctx.lineTo(p, T + 5); });
    ys.ticks.forEach(t => { const p = ys.getPixelForValue(t.value); ctx.moveTo(L, p); ctx.lineTo(L + 5, p); ctx.moveTo(R, p); ctx.lineTo(R - 5, p); });
    ctx.stroke();
    // exponent
    ctx.fillStyle = '#000'; ctx.textAlign = 'left'; ctx.textBaseline = 'alphabetic';
    ctx.font = '13px ' + FONT;
    ctx.fillText('×10', L - 4, T - 3);
    const w = ctx.measureText('×10').width;
    ctx.font = '9px ' + FONT;
    ctx.fillText(o.exp, L - 4 + w + 0.5, T - 10);
    // tag box
    ctx.font = 'bold 21px ' + FONT;
    const tw = ctx.measureText(o.tag).width;
    const bx = L + o.tagDx, by = T + 7, bw = tw + 10, bh = 29;
    ctx.strokeStyle = '#333'; ctx.lineWidth = 1;
    ctx.strokeRect(bx + 0.5, by + 0.5, bw, bh);
    ctx.fillStyle = RED; ctx.textBaseline = 'middle';
    ctx.fillText(o.tag, bx + 5, by + bh / 2 + 1.5);
    // legend
    const items = [[seriesNames[0], RED, 1.7, T + 36], [seriesNames[1], BLUE, 1.2, T + 64]];
    ctx.font = 'bold 23px ' + FONT;
    items.forEach(([txt, col, lw, yy]) => {
      ctx.strokeStyle = col; ctx.lineWidth = lw;
      ctx.beginPath(); ctx.moveTo(R - 185, yy); ctx.lineTo(R - 135, yy); ctx.stroke();
      ctx.fillStyle = '#000'; ctx.textBaseline = 'middle';
      ctx.fillText(txt, R - 127, yy + 1);
    });
    ctx.restore();
  }
};

const page = document.getElementById('page');
const toXY = pairs => pairs.map(p => ({x: p[0], y: p[1]}));
const zipXY = (F, V) => F.map((f, i) => ({x: f, y: V[i]}));

boxes.forEach((bx, i) => {
  const D = panelData[i];
  const W = (bx.R - bx.L) + PAD_L + PAD_R;
  const H = (bx.B - bx.T) + PAD_T + XAX_H;
  const cv = document.createElement('canvas');
  cv.width = W; cv.height = H;
  cv.style.width = W + 'px'; cv.style.height = H + 'px';
  cv.style.left = (bx.L - PAD_L) + 'px'; cv.style.top = (bx.T - PAD_T) + 'px';
  page.appendChild(cv);

  const tickFont = {family: FONT, size: 21, weight: 'bold'};
  const titleFont = {family: FONT, size: 25, weight: 'bold'};
  new Chart(cv.getContext('2d'), {
    type: 'line',
    data: {datasets: [
      {data: zipXY(D.bandF, D.hi), borderWidth: 0, pointRadius: 0, fill: '+1', backgroundColor: GREY, borderColor: GREY, order: 3},
      {data: zipXY(D.bandF, D.lo), borderWidth: 0, pointRadius: 0, fill: false, borderColor: GREY, order: 3},
      {label: seriesNames[0], data: toXY(D.exp), borderColor: RED, borderWidth: 1.7, pointRadius: 0, fill: false, order: 2},
      {label: seriesNames[1], data: toXY(D.sim), borderColor: BLUE, borderWidth: 1.2, pointRadius: 0, fill: false, order: 1}
    ]},
    options: {
      responsive: false, animation: false, events: [],
      layout: {padding: {left: 0, top: PAD_T, right: PAD_R, bottom: 0}},
      elements: {line: {tension: 0, borderJoinStyle: 'round'}},
      plugins: {
        legend: {display: false}, tooltip: {enabled: false},
        decor: {tag: panelTags[i], exp: exponents[i], tagDx: bx.tagDx}
      },
      scales: {
        x: {
          type: 'linear', min: 0, max: 80,
          grid: {display: false, drawTicks: false}, border: {display: false},
          ticks: {stepSize: 10, padding: 6, color: '#000', font: tickFont, maxRotation: 0, autoSkip: false},
          title: {display: true, text: 'Frequency [Hz]', color: '#000', font: titleFont, padding: 0},
          afterFit(s) { s.height = XAX_H; }
        },
        y: {
          type: 'linear', min: 0, max: yMax[i],
          grid: {display: false, drawTicks: false}, border: {display: false},
          ticks: {stepSize: yStep[i], padding: 9, color: '#000', font: tickFont},
          title: {display: true, text: 'Vertical velocity [m/s]', color: '#000', font: titleFont, padding: 0},
          afterFit(s) { s.width = PAD_L; }
        }
      }
    },
    plugins: [decor]
  });

  const cap = document.createElement('div');
  cap.className = 'cap';
  cap.textContent = captions[i];
  cap.style.left = ((bx.L + bx.R) / 2) + 'px';
  cap.style.top = captionY[i] + 'px';
  page.appendChild(cap);
});
</script>
</body></html>
